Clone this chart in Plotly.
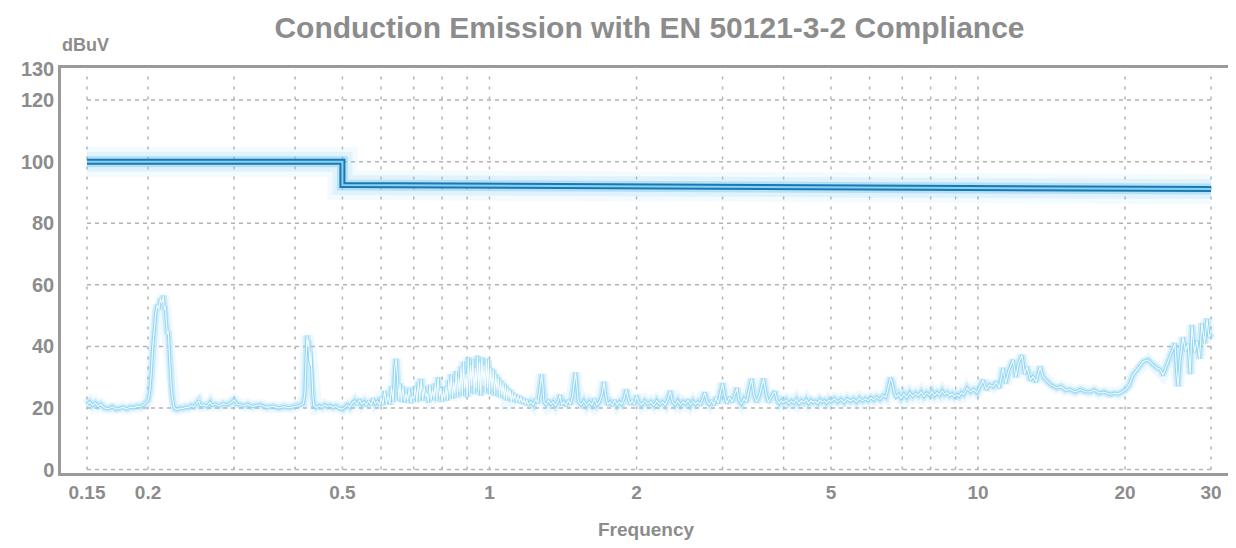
import plotly.graph_objects as go

# ---------------- data ----------------
limit_freq = [0.15, 0.5, 0.5, 30.0]
limit_level = [100.0, 100.0, 92.4, 91.1]

emis_freq = [
    0.150, 0.152, 0.154, 0.156, 0.158, 0.160, 0.163, 0.166, 0.169, 0.172, 0.175, 0.178, 0.181, 0.184, 0.187,
    0.190, 0.193, 0.196, 0.198, 0.200, 0.2015, 0.2030, 0.2045, 0.2060, 0.2075, 0.2090, 0.2105, 0.2120, 0.2135,
    0.2150, 0.2160, 0.2170, 0.2180, 0.2190, 0.2200, 0.2210, 0.2220, 0.2230, 0.2240, 0.2255, 0.2270, 0.2300,
    0.2330, 0.2360, 0.2390, 0.2420, 0.2450, 0.2480, 0.2510, 0.2540, 0.2560, 0.2600, 0.2640, 0.2680, 0.2700,
    0.2750, 0.2800, 0.2850, 0.2900, 0.2950, 0.3000, 0.3040, 0.3100, 0.3150, 0.3200, 0.3260, 0.3330, 0.3400,
    0.3500, 0.3600, 0.3700, 0.3800, 0.3900, 0.4000, 0.4100, 0.4160, 0.4190, 0.4210, 0.4230, 0.4250, 0.4265,
    0.4280, 0.4300, 0.4310, 0.4330, 0.4350, 0.4370, 0.4420, 0.4480, 0.4540, 0.4600, 0.4660, 0.4720, 0.4780,
    0.4850, 0.4920, 0.5000, 0.5060, 0.5120, 0.5180, 0.5240, 0.5300, 0.5360, 0.5420, 0.5480, 0.5540, 0.5600,
    0.5660, 0.5720, 0.5780, 0.5840, 0.5900, 0.5960,
    0.600, 0.605, 0.610, 0.615, 0.620, 0.625, 0.630, 0.635, 0.640, 0.644, 0.648, 0.652, 0.656, 0.660, 0.665,
    0.670, 0.675, 0.680, 0.685, 0.690, 0.695, 0.700, 0.705, 0.710, 0.715, 0.720, 0.725, 0.730, 0.735, 0.740,
    0.745, 0.750, 0.755, 0.760, 0.765, 0.770, 0.775, 0.780, 0.785, 0.790, 0.795, 0.800, 0.805, 0.810, 0.815,
    0.820, 0.825, 0.830, 0.835, 0.840, 0.845, 0.850, 0.855, 0.860, 0.865, 0.870, 0.875, 0.880, 0.885, 0.890,
    0.895, 0.900, 0.905, 0.910, 0.915, 0.920, 0.925, 0.930, 0.935, 0.940, 0.945, 0.950, 0.955, 0.960, 0.965,
    0.970, 0.975, 0.980, 0.985, 0.990, 0.995, 1.000, 1.006, 1.012, 1.018, 1.024, 1.030, 1.036, 1.042, 1.048,
    1.054, 1.060, 1.066, 1.072, 1.078, 1.084, 1.090, 1.096, 1.102, 1.108, 1.114, 1.120, 1.128, 1.136, 1.144,
    1.152, 1.160, 1.168, 1.176, 1.184, 1.192, 1.200,
    1.215, 1.230, 1.245, 1.255, 1.265, 1.272, 1.279, 1.286, 1.293, 1.305, 1.320, 1.335, 1.350, 1.365, 1.380,
    1.395, 1.405, 1.420, 1.435, 1.450, 1.465, 1.480, 1.490, 1.500, 1.510, 1.520, 1.540, 1.560, 1.580, 1.600,
    1.620, 1.640, 1.660, 1.680, 1.700, 1.715, 1.730, 1.745, 1.765, 1.785, 1.805, 1.825, 1.845, 1.865, 1.885,
    1.905, 1.920, 1.940, 1.960, 1.980, 2.000, 2.020, 2.050, 2.080, 2.110, 2.140, 2.170, 2.200, 2.230, 2.260,
    2.290, 2.320, 2.345, 2.370, 2.400, 2.430, 2.460, 2.490, 2.520, 2.550, 2.580, 2.610, 2.640, 2.670, 2.700,
    2.730, 2.760, 2.790, 2.820, 2.850, 2.880, 2.910, 2.940, 2.970, 3.000, 3.030, 3.060, 3.100, 3.140, 3.180,
    3.210, 3.240, 3.280, 3.320, 3.360, 3.400, 3.440, 3.480, 3.520, 3.560, 3.600, 3.640, 3.680, 3.720, 3.760,
    3.800, 3.840, 3.880, 3.920, 3.960, 4.000, 4.050, 4.100, 4.150, 4.200, 4.250, 4.300, 4.350, 4.400, 4.450,
    4.500, 4.550, 4.600, 4.650, 4.700, 4.750, 4.800, 4.850, 4.900, 4.950, 5.000, 5.080, 5.160, 5.240, 5.320,
    5.400, 5.480, 5.560, 5.640, 5.720, 5.800, 5.880, 5.960, 6.040, 6.120, 6.200, 6.300, 6.400, 6.480, 6.560,
    6.620, 6.680, 6.740, 6.800, 6.880, 6.960, 7.050, 7.150, 7.250, 7.350, 7.450, 7.550, 7.650, 7.750, 7.850,
    7.950, 8.050, 8.150, 8.250, 8.350, 8.450, 8.550, 8.650, 8.750, 8.850, 8.950, 9.050, 9.150, 9.250, 9.350,
    9.500, 9.650, 9.800, 9.950, 10.10, 10.24, 10.40, 10.55, 10.74, 10.90, 11.05, 11.25, 11.40, 11.55, 11.80,
    11.95, 12.10, 12.31, 12.45, 12.60, 12.80, 12.96, 13.15, 13.40, 13.60, 13.85, 14.10, 14.51, 14.80, 15.10,
    15.43, 15.80, 16.20, 16.60, 16.96, 17.30, 17.70, 18.10, 18.64, 19.00, 19.40, 20.00, 20.40, 20.77, 21.30,
    21.77, 22.29, 22.80, 23.25, 23.60, 23.92, 24.30, 24.72, 25.00, 25.31, 25.50, 25.68, 25.90, 26.29, 26.60,
    26.91, 27.20, 27.42, 27.75, 28.08, 28.40, 28.74, 29.10, 29.43, 29.70, 30.00,
]

emis_level = [
    21.0, 22.0, 20.8, 21.6, 20.6, 21.2, 20.0, 19.8, 20.4, 19.6, 19.9, 20.2, 19.7, 20.3, 20.1,
    20.6, 20.4, 21.0, 21.8, 22.5, 25.0, 31.0, 40.0, 47.0, 51.0, 53.5, 52.0, 55.5, 54.0,
    56.5, 52.0, 53.0, 48.0, 44.0, 45.0, 38.0, 30.0, 27.0, 24.0, 21.0, 19.8, 19.5,
    20.0, 19.8, 20.3, 20.1, 20.8, 20.4, 21.3, 22.3, 20.8, 21.0, 20.6, 21.9, 20.9,
    21.2, 20.7, 21.4, 21.0, 21.6, 22.6, 21.3, 21.0, 20.7, 21.2, 20.5, 20.8, 21.0,
    20.2, 20.6, 20.0, 20.4, 20.1, 20.6, 20.9, 21.5, 25.0, 35.0, 43.5, 40.0, 42.0,
    37.0, 34.0, 38.5, 30.0, 24.0, 20.8, 20.2, 20.7, 20.3, 21.0, 20.5, 20.8, 20.2,
    20.6, 19.8, 19.6, 20.4, 21.0, 20.3, 21.8, 22.3, 21.0, 22.8, 21.2, 22.0, 20.8,
    22.4, 21.0, 23.0, 21.4, 22.2, 20.9,
    23.5, 21.0, 25.5, 21.5, 24.0, 21.2, 27.0, 22.0, 33.0, 36.0, 30.0, 22.5, 28.0, 22.0, 27.0,
    21.8, 25.0, 22.5, 26.5, 21.6, 24.0, 22.8, 27.0, 22.0, 28.5, 23.0, 29.5, 22.4, 27.0, 23.5,
    25.0, 21.8, 27.5, 22.6, 26.0, 23.0, 28.0, 22.2, 30.0, 23.5, 26.5, 22.0, 25.5, 23.0, 27.0,
    22.5, 29.0, 24.0, 31.0, 23.0, 28.5, 24.5, 32.0, 23.5, 30.0, 25.0, 33.5, 24.0, 35.0, 26.0,
    31.0, 23.5, 36.5, 25.0, 34.0, 27.0, 36.0, 24.5, 33.0, 26.0, 37.0, 25.5, 35.0, 24.0, 36.5,
    27.0, 34.0, 25.0, 36.0, 26.5, 35.5, 24.5, 33.0, 26.0, 32.5, 24.0, 31.0, 25.5, 30.0, 23.5,
    29.0, 24.0, 28.0, 23.0, 27.5, 22.5, 26.5, 23.0, 26.0, 22.0, 25.0, 22.5, 24.5, 21.8, 24.0,
    22.0, 23.5, 21.5, 23.0, 21.2, 22.8, 21.0,
    22.0, 21.0, 23.0, 21.5, 25.0, 28.0, 31.0, 27.0, 22.0, 21.0, 22.5, 21.2, 22.0, 20.8, 22.0,
    24.2, 21.0, 22.0, 20.8, 22.5, 21.2, 24.0, 28.0, 31.5, 27.0, 22.0, 21.0, 22.3, 20.8, 22.0,
    21.0, 23.0, 21.0, 22.0, 24.5, 28.5, 24.0, 21.0, 22.0, 20.8, 22.5, 21.0, 22.0, 21.2, 23.0,
    26.0, 23.5, 21.2, 22.5, 21.0, 24.0, 22.0, 21.0, 22.3, 21.2, 22.0, 20.9, 22.4, 21.2, 22.0,
    21.0, 23.0, 25.5, 22.0, 21.0, 22.4, 21.0, 22.0, 21.3, 22.6, 21.0, 22.2, 21.2, 22.0, 21.0,
    23.0, 25.0, 22.0, 21.2, 22.5, 21.0, 23.5, 21.5, 25.0, 28.0, 24.0, 21.5, 23.5, 22.0, 24.5,
    26.5, 22.5, 21.3, 23.0, 22.0, 26.0, 29.5, 24.0, 22.0, 23.5, 26.5, 29.5, 25.0, 22.0, 23.0,
    24.5, 25.3, 22.5, 21.5, 22.5, 21.8, 22.6, 21.5, 22.3, 21.6, 22.8, 21.4, 22.4, 21.8, 22.8,
    21.5, 22.5, 21.8, 22.2, 21.5, 22.7, 21.9, 22.4, 21.6, 22.6, 22.0, 23.0, 22.0, 22.8, 21.8,
    23.0, 22.2, 22.9, 22.0, 23.2, 22.3, 23.0, 22.4, 23.4, 22.6, 23.5, 22.8, 24.0, 23.5, 27.0,
    29.8, 28.0, 25.0, 23.5, 24.5, 23.2, 24.6, 23.4, 25.0, 23.8, 24.8, 24.0, 25.2, 23.8, 24.9,
    24.2, 25.4, 24.0, 25.0, 24.2, 25.6, 24.4, 25.0, 24.0, 24.6, 23.7, 24.4, 23.8, 25.0, 24.4,
    26.5, 25.2, 26.0, 25.0, 27.0, 29.0, 26.0, 27.5, 27.0, 28.5, 26.5, 33.0, 28.0, 32.0, 35.6,
    30.0, 34.5, 37.2, 31.0, 33.4, 29.0, 30.2, 28.5, 33.4, 30.0, 28.8, 27.5, 26.5, 27.0, 25.8,
    26.0, 25.2, 26.0, 25.3, 25.2, 25.8, 24.8, 25.2, 24.4, 24.8, 24.6, 25.8, 27.5, 30.7, 33.0,
    35.0, 35.6, 34.0, 33.0, 32.5, 30.7, 33.5, 36.7, 39.0, 41.0, 32.0, 27.0, 35.0, 43.0, 38.5,
    41.0, 31.0, 47.0, 38.0, 42.0, 36.0, 47.6, 41.0, 49.0, 43.0, 44.3,
]

x_tick_vals = [0.15, 0.2, 0.5, 1, 2, 5, 10, 20, 30]
x_tick_text = ["0.15", "0.2", "0.5", "1", "2", "5", "10", "20", "30"]
y_tick_vals = [0, 20, 40, 60, 80, 100, 120, 130]
grid_freqs = [0.15, 0.2, 0.3, 0.4, 0.5, 0.6, 0.7, 0.8, 0.9, 1, 2, 3, 4, 5, 6, 7, 8, 9, 10, 20, 30]
grid_levels = [0, 20, 40, 60, 80, 100, 120]

title_text = "Conduction Emission with EN 50121-3-2 Compliance"
y_unit = "dBuV"
x_title = "Frequency"

# ---------------- styling ----------------
TEXT = "#8c8c8c"
GRID = "#b3b3b3"
AXIS = "#9a9a9a"
FONT = "Liberation Sans, Arial, sans-serif"

fig = go.Figure()

# gridlines (horizontal dashed, vertical dotted) spanning 0.15-30 MHz, 0-130 dBuV
hx, hy = [], []
for lv in grid_levels:
    hx += [grid_freqs[0], grid_freqs[-1], None]
    hy += [lv, lv, None]
fig.add_trace(go.Scatter(x=hx, y=hy, mode="lines", hoverinfo="skip",
                         line=dict(color=GRID, width=1.5, dash="4px,4px")))
vx, vy = [], []
for fq in grid_freqs:
    vx += [fq, fq, None]
    vy += [y_tick_vals[0], y_tick_vals[-1], None]
fig.add_trace(go.Scatter(x=vx, y=vy, mode="lines", hoverinfo="skip",
                         line=dict(color=GRID, width=1.5, dash="3px,7px")))

# limit line with glow
for w, c in [(30, "rgba(160,220,246,0.12)"), (20, "rgba(140,210,243,0.18)"),
             (11, "rgba(100,190,236,0.35)"), (6, "#1a78b3"), (2, "#86d3f3")]:
    fig.add_trace(go.Scatter(x=limit_freq, y=limit_level, mode="lines", hoverinfo="skip",
                             line=dict(color=c, width=w)))

# emission trace with glow
for w, c in [(12, "rgba(160,220,246,0.16)"), (7, "rgba(130,205,240,0.3)"),
             (3.2, "#94d7f2"), (1.1, "rgba(255,255,255,0.9)")]:
    fig.add_trace(go.Scatter(x=emis_freq, y=emis_level, mode="lines", hoverinfo="skip",
                             line=dict(color=c, width=w)))

# page has an 8px body margin: figure is 1220x532 placed at (8, 8)
fig.update_layout(
    width=1220, height=532,
    margin=dict(l=53, r=0, t=60, b=67, autoexpand=False),
    paper_bgcolor="white", plot_bgcolor="white",
    showlegend=False,
    title=dict(text=title_text, x=0.5258, xanchor="center", y=1 - 19 / 532, yanchor="middle",
               font=dict(family=FONT, size=30, color=TEXT, weight="bold")),
    xaxis=dict(type="log", range=[-0.8771, 1.5118], showgrid=False, zeroline=False,
               automargin=False,
               tickmode="array", tickvals=x_tick_vals, ticktext=x_tick_text,
               ticks="", ticklabelstandoff=0,
               tickfont=dict(family=FONT, size=19, color=TEXT, weight="bold"),
               showline=True, linecolor=AXIS, linewidth=2.5, mirror=True),
    yaxis=dict(range=[-1.1, 130.4], showgrid=False, zeroline=False,
               automargin=False,
               tickmode="array", tickvals=y_tick_vals,
               ticks="", ticklabelstandoff=0,
               tickfont=dict(family=FONT, size=20, color=TEXT, weight="bold"),
               showline=True, linecolor=AXIS, linewidth=2.5),
    annotations=[
        dict(text=y_unit, xref="paper", yref="paper", x=-0.001, y=1.0568, xanchor="left",
             yanchor="middle", showarrow=False,
             font=dict(family=FONT, size=18, color=TEXT, weight="bold")),
        dict(text=x_title, xref="paper", yref="paper", x=0.5013, y=-0.1407, xanchor="center",
             yanchor="middle", showarrow=False,
             font=dict(family=FONT, size=19, color=TEXT, weight="bold")),
    ],
)

fig.write_html("out.html")
